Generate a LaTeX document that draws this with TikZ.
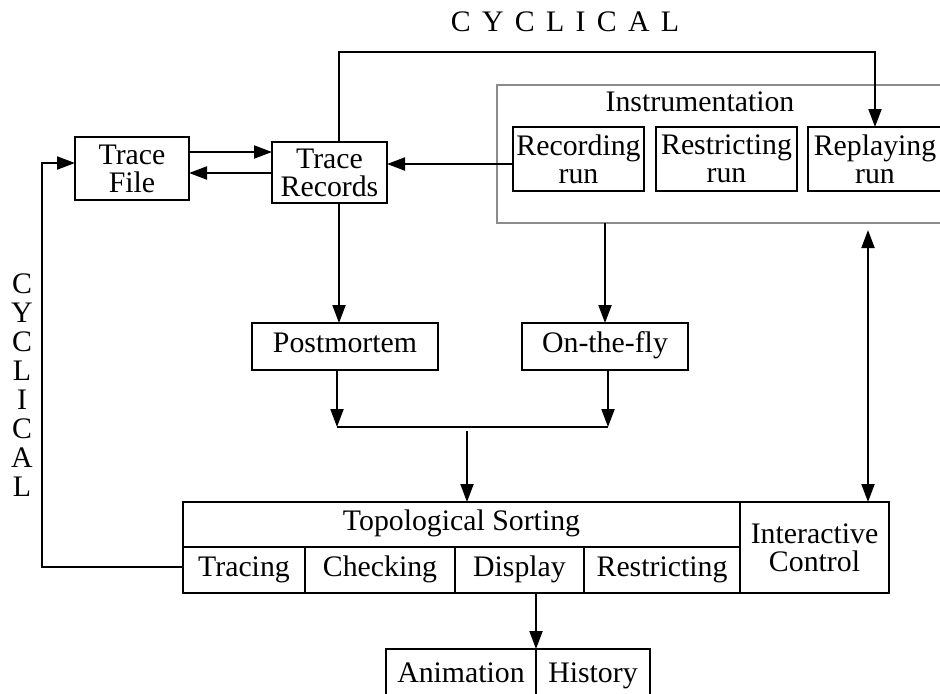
\documentclass[tikz,border=0pt]{standalone}
\usepackage{fontspec}
\setmainfont{Liberation Serif}
\usetikzlibrary{arrows.meta}
\begin{document}
\begin{tikzpicture}[x=0.5pt,y=-0.5pt,
  every node/.style={font=\fontsize{14.9}{14}\selectfont, inner sep=0pt, outer sep=0pt},
  box/.style={draw=black, line width=1pt},
  oneline/.style={text height=0.7em, text depth=0.06em},
  arr/.style={line width=1pt, -{Triangle[length=9pt,width=6.5pt]}},
  darr/.style={line width=1pt, {Triangle[length=9pt,width=6.5pt]}-{Triangle[length=9pt,width=6.5pt]}},
  link/.style={line width=1pt}]
\useasboundingbox (0,0) rectangle (940,693);
\clip (0,0) rectangle (940,693);

% cycle labels
\node[oneline] (cyctop) at (565,25) {\spaceskip=0.38em C Y C L I C A L};
\node[align=center, font=\fontsize{14.9}{14.45}\selectfont] (cycleft) at (22,385)
  {C\\Y\\C\\L\\I\\C\\A\\L};

% trace storage
\node[box, minimum width=57pt, minimum height=31.5pt, align=center] (tf) at (132,168.5) {Trace\\File};
\node[box, minimum width=57.5pt, minimum height=30.5pt, align=center] (tr) at (329.5,172.5) {Trace\\Records};

% instrumentation group
\node[draw=black!45, line width=1pt, minimum width=222.5pt, minimum height=69pt] (ins) at (719.5,154) {};
\node[oneline] (insl) at (700,105) {Instrumentation};
\node[box, minimum width=65.5pt, minimum height=32pt, align=center] (rec) at (578.5,159) {Recording\\run};
\node[box, minimum width=70.5pt, minimum height=32pt, align=center] (rst) at (726.5,159) {Restricting\\run};
\node[box, minimum width=67pt, minimum height=32pt, align=center] (rep) at (875,159) {Replaying\\run};

% analysis modes
\node[box, oneline, minimum width=93pt, minimum height=23.5pt] (pm) at (345,346.5) {Postmortem};
\node[box, oneline, minimum width=83pt, minimum height=23.5pt] (otf) at (605,346.5) {On-the-fly};

% topological sorting table
\node[box, oneline, minimum width=278.5pt, minimum height=22.5pt] (ts) at (461.5,524.5) {Topological Sorting};
\node[box, oneline, minimum width=61pt, minimum height=23pt] (tracing) at (244,570) {Tracing};
\node[box, oneline, minimum width=75pt, minimum height=23pt] (checking) at (380,570) {Checking};
\node[box, oneline, minimum width=64.5pt, minimum height=23pt] (display) at (519.5,570) {Display};
\node[box, oneline, minimum width=78pt, minimum height=23pt] (restr) at (662,570) {Restricting};
\node[box, minimum width=74.5pt, minimum height=45.5pt, align=center] (ic) at (814.5,547.5) {Interactive\\Control};

% output views
\node[box, oneline, minimum width=75pt, minimum height=27pt] (anim) at (461,676) {Animation};
\node[box, oneline, minimum width=57pt, minimum height=27pt] (hist) at (593,676) {History};

% helper points
\coordinate (topl) at (339,52);
\coordinate (topr) at (875,52);
\coordinate (lt) at (42,163);
\coordinate (lb) at (42,567);
\coordinate (jl) at (337,427);
\coordinate (jr) at (608,427);
\coordinate (jm) at (467,431);
\coordinate (dt) at (868,230);

% connectors
\draw[arr] ([yshift=8.25pt]tf.east) -- ([yshift=8.25pt]tf.east -| tr.west);
\draw[arr] ([yshift=-0.25pt]tr.west) -- ([yshift=-0.25pt]tr.west -| tf.east);
\draw[arr] ([yshift=-2.5pt]rec.west) -- ([yshift=-2.5pt]rec.west -| tr.east);
\draw[arr] (tr.north -| topl) -- (topl) -- (topr) -- (rep.north);
\draw[arr] (lb -| tracing.west) -- (lb) -- (lt) -- (lt -| tf.west);
\draw[arr] (tr.south -| topl) -- (pm.north -| topl);
\draw[arr] (ins.south -| otf.north) -- (otf.north);
\draw[arr] (pm.south -| jl) -- (jl);
\draw[arr] (otf.south -| jr) -- (jr);
\draw[link] (jl) -- (jr);
\draw[arr] (jm) -- (jm |- ts.north);
\draw[darr] (dt) -- (dt |- ic.north);
\draw[arr] (anim.east |- display.south) -- (anim.north east);
\end{tikzpicture}
\end{document}
